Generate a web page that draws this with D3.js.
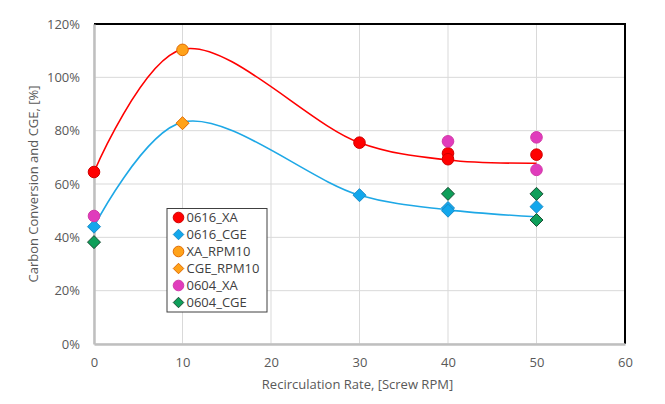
<!DOCTYPE html>
<html><head><meta charset="utf-8">
<script src="https://cdn.jsdelivr.net/npm/d3@7"></script>
<style>body{margin:0;background:#fff}svg{display:block}text{font-family:"Open Sans","Liberation Sans",sans-serif}</style>
</head><body><svg id="c" width="665" height="404"></svg>
<script>
const xTicks = [0,10,20,30,40,50,60];
const yTicks = [0,20,40,60,80,100,120];
// series
const s0616XA = [[0,64.5],[30,75.5],[40,71.5],[40,69.3],[50,71]];
const s0616CGE = [[0,44],[30,55.8],[40,51],[40,50],[50,51.5]];
const sXARPM10 = [[10,110.3]];
const sCGERPM10 = [[10,82.8]];
const s0604XA = [[0,48],[40,76],[50,77.5],[50,65.3]];
const s0604CGE = [[0,38.2],[40,56.3],[50,56.3],[50,46.5]];
// smoothed trend lines
const fitXA = [[0,64.5],[10,110.5],[30,75.5],[40,69],[50,67.8]];
const fitCGE = [[0,44],[10,83.2],[30,55.8],[40,50.3],[50,47.7]];
const legendNames = ["0616_XA","0616_CGE","XA_RPM10","CGE_RPM10","0604_XA","0604_CGE"];

const svg = d3.select("#c");
const L=94, R=625, T=24, B=344;
const x = d3.scaleLinear().domain([0,60]).range([L,R]);
const y = d3.scaleLinear().domain([0,120]).range([B,T]);

// gridlines
svg.append("g").selectAll("line").data(yTicks).join("line")
  .attr("x1",L).attr("x2",R).attr("y1",d=>y(d)).attr("y2",d=>y(d))
  .attr("stroke","#d9d9d9").attr("stroke-width",1);
svg.append("g").selectAll("line").data(xTicks).join("line")
  .attr("x1",d=>x(d)).attr("x2",d=>x(d)).attr("y1",T).attr("y2",B)
  .attr("stroke","#d9d9d9").attr("stroke-width",1);
// frame
svg.append("path").attr("d",`M${L},${T}H${R}V${B}`).attr("fill","none").attr("stroke","#000").attr("stroke-width",2);

// axes
const xAxis = svg.append("g").attr("transform",`translate(0,${B})`)
  .call(d3.axisBottom(x).tickValues(xTicks).tickSize(0).tickPadding(14));
const yAxis = svg.append("g").attr("transform",`translate(${L},0)`)
  .call(d3.axisLeft(y).tickValues(yTicks).tickSize(0).tickPadding(14).tickFormat(d=>d+"%"));
[xAxis,yAxis].forEach(a=>{
  a.select(".domain").attr("stroke","#bfbfbf").attr("stroke-width",2.5);
  a.selectAll("text").attr("fill","#595959").attr("font-size","13px");
});

svg.append("text").attr("x",(L+R)/2 - 2).attr("y",389).attr("text-anchor","middle")
  .attr("fill","#595959").attr("font-size","13px").text("Recirculation Rate, [Screw RPM]");
svg.append("text").attr("transform",`translate(38,${(T+B)/2}) rotate(-90)`).attr("text-anchor","middle")
  .attr("fill","#595959").attr("font-size","13px").text("Carbon Conversion and CGE, [%]");

// trend curves
const line = d3.line().x(d=>x(d[0])).y(d=>y(d[1])).curve(d3.curveCatmullRom.alpha(0.5));
svg.append("path").datum(fitXA).attr("d",line).attr("fill","none").attr("stroke","#ff0000").attr("stroke-width",1.6);
svg.append("path").datum(fitCGE).attr("d",line).attr("fill","none").attr("stroke","#1ea8e6").attr("stroke-width",1.6);

const styles = [
  {data:s0616XA, shape:"circle", fill:"#ff0000", stroke:"#d00000"},
  {data:s0616CGE, shape:"diamond", fill:"#12a7ec", stroke:"#1a8cc8"},
  {data:sXARPM10, shape:"circle", fill:"#ffa21a", stroke:"#e06a00"},
  {data:sCGERPM10, shape:"diamond", fill:"#ffa21a", stroke:"#e06a00"},
  {data:s0604XA, shape:"circle", fill:"#e03cbc", stroke:"#d23aa8"},
  {data:s0604CGE, shape:"diamond", fill:"#0f9f5a", stroke:"#1c4f36"}
];
function marker(g, shape, fill, stroke, cx, cy, r){
  if(shape==="circle"){
    g.append("circle").attr("cx",cx).attr("cy",cy).attr("r",r).attr("fill",fill).attr("stroke",stroke).attr("stroke-width",1);
  } else {
    const s=r*1.05;
    g.append("path").attr("d",`M${cx},${cy-s}L${cx+s},${cy}L${cx},${cy+s}L${cx-s},${cy}Z`)
      .attr("fill",fill).attr("stroke",stroke).attr("stroke-width",1);
  }
}
const mg = svg.append("g");
styles.forEach(st=>{
  st.data.forEach(d=>marker(mg, st.shape, st.fill, st.stroke, x(d[0]), y(d[1]), st.shape==="circle"?5.8:6.2));
});

// legend
const lg = svg.append("g");
lg.append("rect").attr("x",167).attr("y",208.5).attr("width",100).attr("height",103.5)
  .attr("fill","#fff").attr("stroke","#404040").attr("stroke-width",1);
legendNames.forEach((n,i)=>{
  const cy = 217.5 + i*17;
  const st = styles[i];
  marker(lg, st.shape, st.fill, st.stroke, 178.5, cy, st.shape==="circle"?5.3:5);
  lg.append("text").attr("x",186.5).attr("y",cy+4.5).attr("font-size","13px").attr("fill","#404040").text(n);
});
</script></body></html>
